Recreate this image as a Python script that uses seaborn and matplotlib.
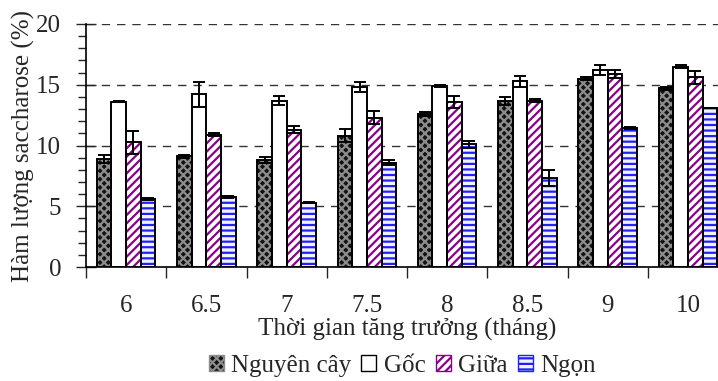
"""
Saccharose content by plant part over growth time - grouped bar chart.
"""
import numpy as np
import pandas as pd
import matplotlib
matplotlib.use('Agg')
import matplotlib.pyplot as plt
from matplotlib.patches import Rectangle, Patch
import seaborn as sns

# Data
months = ['6', '6.5', '7', '7.5', '8', '8.5', '9', '10']
parts = ['Nguyên cây', 'Gốc', 'Giữa', 'Ngọn']

nguyen_cay = [8.9, 9.1, 8.8, 10.8, 12.6, 13.7, 15.5, 14.7]
nguyen_cay_err = [0.3, 0.1, 0.27, 0.55, 0.15, 0.33, 0.1, 0.1]
goc = [13.6, 14.2, 13.7, 14.8, 14.9, 15.3, 16.2, 16.5]
goc_err = [0.05, 1.05, 0.35, 0.4, 0.05, 0.45, 0.43, 0.1]
giua = [10.25, 10.9, 11.3, 12.3, 13.6, 13.7, 15.9, 15.6]
giua_err = [0.95, 0.1, 0.3, 0.55, 0.5, 0.1, 0.33, 0.5]
ngon = [5.6, 5.75, 5.3, 8.6, 10.1, 7.3, 11.45, 13.1]
ngon_err = [0.1, 0.1, 0.05, 0.2, 0.3, 0.65, 0.1, 0.0]

values = [nguyen_cay, goc, giua, ngon]
errors = [nguyen_cay_err, goc_err, giua_err, ngon_err]

# (facecolor, hatch, hatch colour)
styles = [
    ('#121212', 'xxxx', '#8c8c8c'),
    ('white', '', 'black'),
    ('white', '////', '#8b008b'),
    ('#f2f2ff', '---', '#2020ff'),
]

rows = []
for part, vals in zip(parts, values):
    for m, v in zip(months, vals):
        rows.append({'month': m, 'part': part, 'value': v})
df = pd.DataFrame(rows)

sns.set_style('ticks')
plt.rcParams['font.family'] = ['Liberation Serif', 'DejaVu Serif']
plt.rcParams['hatch.linewidth'] = 1.6

fig = plt.figure(figsize=(7.18, 3.81), dpi=100)
ax = fig.add_axes([86 / 718, 1 - 267 / 381, 642 / 718, 243 / 381])

sns.barplot(data=df, x='month', y='value', hue='part', order=months,
            hue_order=parts, width=0.73, errorbar=None, legend=False, ax=ax)

for cont, (fc, hatch, hc), err in zip(ax.containers, styles, errors):
    xs, hs = [], []
    for bar in cont:
        bar.set_facecolor(fc)
        bar.set_hatch(hatch)
        bar.set_edgecolor(hc)
        bar.set_linewidth(0)
        ax.add_patch(Rectangle(bar.get_xy(), bar.get_width(), bar.get_height(),
                               fill=False, edgecolor='black', linewidth=1.4, zorder=3))
        xs.append(bar.get_x() + bar.get_width() / 2)
        hs.append(bar.get_height())
    ax.errorbar(xs, hs, yerr=err, fmt='none', ecolor='black', elinewidth=1.4,
                capsize=4.3, capthick=1.4, zorder=4)

ax.set_ylim(0, 20)
ax.set_xlim(-0.5, 7.5)
ax.set_yticks([0, 5, 10, 15, 20])
ax.set_yticks(np.arange(0, 21, 1), minor=True)
ax.tick_params(axis='y', which='major', direction='inout', length=14, width=1,
               labelsize=18, pad=11)
ax.tick_params(axis='y', which='minor', direction='out', length=6, width=1)
ax.set_xticks(np.arange(-0.5, 8, 1), minor=True)
ax.tick_params(axis='x', which='major', length=0, labelsize=18, pad=20)
ax.tick_params(axis='x', which='minor', direction='out', length=8, width=1)

ax.yaxis.grid(True, which='major', linestyle=(0, (6, 5)), color='#333333', linewidth=1)
ax.set_axisbelow(True)
for s in ['top', 'right']:
    ax.spines[s].set_visible(False)
for s in ['left', 'bottom']:
    ax.spines[s].set_linewidth(1.2)
    ax.spines[s].set_color('black')

ax.set_xlabel('Thời gian tăng trưởng (tháng)', fontsize=18, labelpad=1)
ax.set_ylabel('Hàm lượng saccharose (%)', fontsize=18, labelpad=1)

handles = []
for fc, hatch, hc in styles:
    handles.append(Patch(facecolor=fc, hatch=hatch, edgecolor=hc if hatch else 'black',
                         linewidth=1))
fig.legend(handles, parts, loc='center', bbox_to_anchor=(402 / 718, 1 - 366 / 381),
           ncol=4, frameon=False, fontsize=18, handlelength=0.6, handleheight=0.6,
           handletextpad=0.3, columnspacing=0.4, borderaxespad=0)

fig.savefig('out.png', dpi=100)
